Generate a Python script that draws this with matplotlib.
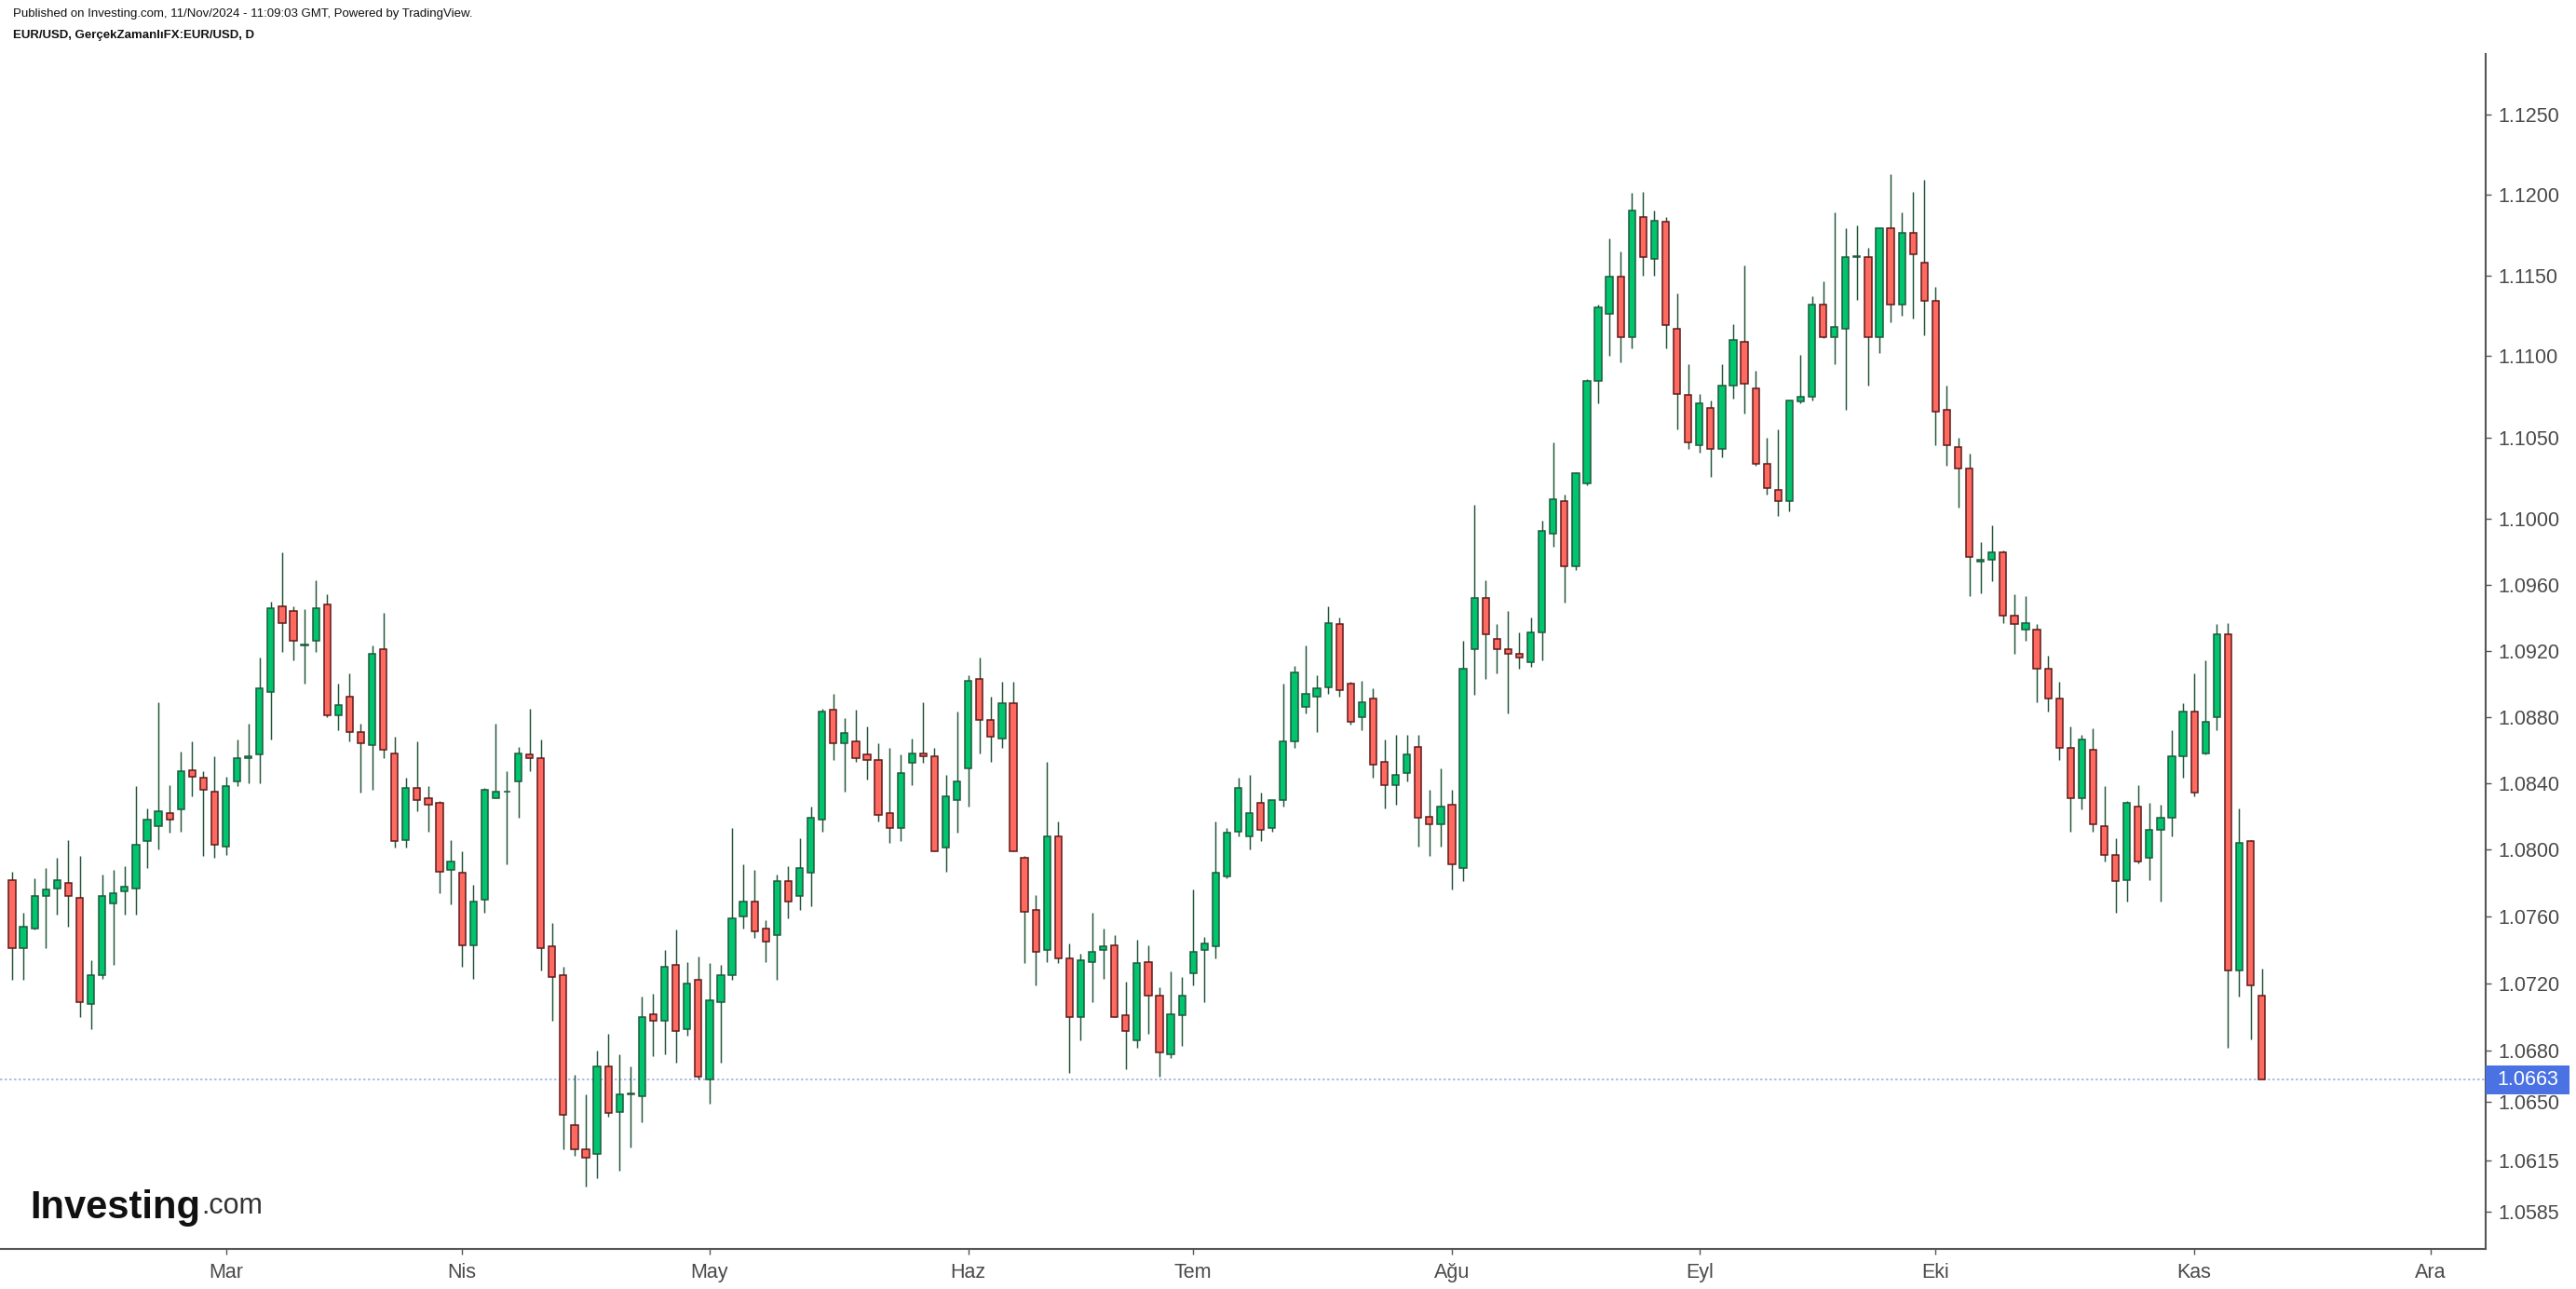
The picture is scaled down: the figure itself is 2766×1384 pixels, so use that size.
import matplotlib
matplotlib.use("Agg")
import matplotlib.pyplot as plt
from matplotlib.patches import Rectangle
from matplotlib.transforms import IdentityTransform
from matplotlib.ticker import FixedLocator, NullLocator, FuncFormatter
import numpy as np
import pandas as pd

plt.rcParams['font.family'] = ['Liberation Sans', 'DejaVu Sans']

# EUR/USD daily candles, one per weekday starting 5 Feb 2024
start_date = "2024-02-05"

opens = [
    1.0782, 1.0741, 1.0753, 1.0772, 1.0777, 1.0780, 1.0771, 1.0708, 1.0725, 1.0768,
    1.0775, 1.0777, 1.0805, 1.0814, 1.0822, 1.0824, 1.0848, 1.0843, 1.0835, 1.0802,
    1.0841, 1.0855, 1.0857, 1.0895, 1.0947, 1.0944, 1.0923, 1.0926, 1.0948, 1.0881,
    1.0892, 1.0871, 1.0863, 1.0921, 1.0858, 1.0806, 1.0837, 1.0831, 1.0828, 1.0788,
    1.0786, 1.0743, 1.0770, 1.0831, 1.0835, 1.0841, 1.0857, 1.0855, 1.0742, 1.0725,
    1.0636, 1.0622, 1.0619, 1.0671, 1.0644, 1.0654, 1.0653, 1.0702, 1.0698, 1.0731,
    1.0693, 1.0722, 1.0663, 1.0709, 1.0725, 1.0760, 1.0769, 1.0753, 1.0749, 1.0781,
    1.0772, 1.0786, 1.0818, 1.0884, 1.0864, 1.0865, 1.0857, 1.0854, 1.0822, 1.0813,
    1.0852, 1.0858, 1.0856, 1.0801, 1.0830, 1.0849, 1.0903, 1.0878, 1.0867, 1.0888,
    1.0795, 1.0764, 1.0740, 1.0808, 1.0735, 1.0700, 1.0733, 1.0740, 1.0743, 1.0701,
    1.0686, 1.0733, 1.0713, 1.0678, 1.0701, 1.0726, 1.0740, 1.0742, 1.0784, 1.0811,
    1.0808, 1.0828, 1.0813, 1.0830, 1.0865, 1.0886, 1.0892, 1.0898, 1.0936, 1.0900,
    1.0880, 1.0891, 1.0853, 1.0839, 1.0846, 1.0862, 1.0820, 1.0815, 1.0827, 1.0789,
    1.0921, 1.0952, 1.0927, 1.0921, 1.0918, 1.0913, 1.0931, 1.0991, 1.1011, 1.0971,
    1.1022, 1.1085, 1.1126, 1.1149, 1.1112, 1.1186, 1.1160, 1.1183, 1.1117, 1.1076,
    1.1045, 1.1068, 1.1043, 1.1082, 1.1109, 1.1080, 1.1034, 1.1018, 1.1011, 1.1072,
    1.1075, 1.1132, 1.1112, 1.1117, 1.1161, 1.1161, 1.1112, 1.1179, 1.1132, 1.1176,
    1.1158, 1.1134, 1.1067, 1.1044, 1.1031, 1.0974, 1.0975, 1.0980, 1.0941, 1.0933,
    1.0933, 1.0909, 1.0891, 1.0861, 1.0831, 1.0860, 1.0814, 1.0797, 1.0782, 1.0826,
    1.0795, 1.0812, 1.0819, 1.0856, 1.0883, 1.0858, 1.0880, 1.0930, 1.0728, 1.0805,
    1.0713,
]
highs = [
    1.0787, 1.0762, 1.0783, 1.0789, 1.0795, 1.0806, 1.0796, 1.0734, 1.0785, 1.0788,
    1.0790, 1.0838, 1.0825, 1.0889, 1.0839, 1.0859, 1.0865, 1.0847, 1.0856, 1.0844,
    1.0866, 1.0876, 1.0916, 1.0950, 1.0980, 1.0947, 1.0945, 1.0963, 1.0954, 1.0900,
    1.0906, 1.0876, 1.0923, 1.0943, 1.0868, 1.0843, 1.0865, 1.0838, 1.0829, 1.0806,
    1.0799, 1.0779, 1.0837, 1.0876, 1.0847, 1.0862, 1.0885, 1.0866, 1.0756, 1.0730,
    1.0666, 1.0654, 1.0680, 1.0690, 1.0678, 1.0671, 1.0712, 1.0714, 1.0740, 1.0752,
    1.0733, 1.0736, 1.0732, 1.0731, 1.0813, 1.0791, 1.0788, 1.0758, 1.0785, 1.0790,
    1.0807, 1.0826, 1.0885, 1.0894, 1.0879, 1.0884, 1.0874, 1.0864, 1.0861, 1.0857,
    1.0867, 1.0889, 1.0861, 1.0845, 1.0883, 1.0905, 1.0916, 1.0892, 1.0901, 1.0901,
    1.0796, 1.0773, 1.0853, 1.0817, 1.0744, 1.0738, 1.0762, 1.0753, 1.0749, 1.0721,
    1.0746, 1.0743, 1.0718, 1.0727, 1.0724, 1.0776, 1.0748, 1.0817, 1.0813, 1.0843,
    1.0845, 1.0834, 1.0830, 1.0900, 1.0911, 1.0923, 1.0905, 1.0947, 1.0940, 1.0901,
    1.0902, 1.0897, 1.0866, 1.0869, 1.0869, 1.0869, 1.0836, 1.0849, 1.0836, 1.0926,
    1.1009, 1.0963, 1.0936, 1.0944, 1.0931, 1.0940, 1.0999, 1.1047, 1.1015, 1.1029,
    1.1086, 1.1132, 1.1173, 1.1165, 1.1201, 1.1202, 1.1190, 1.1186, 1.1139, 1.1095,
    1.1077, 1.1073, 1.1095, 1.1120, 1.1156, 1.1091, 1.1050, 1.1055, 1.1073, 1.1101,
    1.1137, 1.1146, 1.1189, 1.1179, 1.1181, 1.1167, 1.1179, 1.1213, 1.1189, 1.1202,
    1.1209, 1.1143, 1.1082, 1.1050, 1.1040, 1.0986, 1.0996, 1.0981, 1.0954, 1.0953,
    1.0936, 1.0917, 1.0901, 1.0874, 1.0869, 1.0873, 1.0838, 1.0807, 1.0829, 1.0839,
    1.0828, 1.0827, 1.0872, 1.0888, 1.0906, 1.0914, 1.0936, 1.0937, 1.0825, 1.0806,
    1.0729,
]
lows = [
    1.0722, 1.0722, 1.0752, 1.0741, 1.0761, 1.0754, 1.0700, 1.0693, 1.0723, 1.0731,
    1.0761, 1.0761, 1.0789, 1.0800, 1.0810, 1.0811, 1.0832, 1.0796, 1.0795, 1.0797,
    1.0838, 1.0840, 1.0840, 1.0866, 1.0919, 1.0914, 1.0900, 1.0919, 1.0880, 1.0872,
    1.0865, 1.0834, 1.0836, 1.0855, 1.0801, 1.0801, 1.0823, 1.0811, 1.0774, 1.0767,
    1.0730, 1.0723, 1.0762, 1.0831, 1.0791, 1.0819, 1.0847, 1.0728, 1.0698, 1.0622,
    1.0618, 1.0600, 1.0605, 1.0641, 1.0609, 1.0623, 1.0638, 1.0677, 1.0678, 1.0673,
    1.0689, 1.0663, 1.0649, 1.0673, 1.0722, 1.0753, 1.0747, 1.0733, 1.0722, 1.0759,
    1.0764, 1.0766, 1.0811, 1.0854, 1.0835, 1.0853, 1.0842, 1.0817, 1.0804, 1.0805,
    1.0839, 1.0852, 1.0799, 1.0787, 1.0810, 1.0826, 1.0858, 1.0853, 1.0861, 1.0799,
    1.0732, 1.0719, 1.0733, 1.0732, 1.0667, 1.0686, 1.0709, 1.0723, 1.0700, 1.0669,
    1.0682, 1.0690, 1.0665, 1.0676, 1.0683, 1.0719, 1.0709, 1.0735, 1.0783, 1.0808,
    1.0800, 1.0805, 1.0811, 1.0826, 1.0861, 1.0882, 1.0871, 1.0894, 1.0892, 1.0875,
    1.0872, 1.0843, 1.0825, 1.0827, 1.0841, 1.0802, 1.0796, 1.0802, 1.0776, 1.0781,
    1.0893, 1.0903, 1.0906, 1.0882, 1.0909, 1.0910, 1.0914, 1.0983, 1.0949, 1.0969,
    1.1021, 1.1071, 1.1100, 1.1096, 1.1105, 1.1150, 1.1150, 1.1105, 1.1055, 1.1043,
    1.1041, 1.1026, 1.1038, 1.1074, 1.1065, 1.1033, 1.1015, 1.1002, 1.1005, 1.1071,
    1.1073, 1.1111, 1.1095, 1.1067, 1.1135, 1.1082, 1.1102, 1.1121, 1.1125, 1.1123,
    1.1113, 1.1045, 1.1033, 1.1007, 1.0953, 1.0955, 1.0962, 1.0937, 1.0918, 1.0926,
    1.0889, 1.0883, 1.0854, 1.0811, 1.0824, 1.0811, 1.0793, 1.0762, 1.0769, 1.0792,
    1.0782, 1.0769, 1.0808, 1.0843, 1.0832, 1.0857, 1.0872, 1.0682, 1.0712, 1.0687,
    1.0663,
]
closes = [
    1.0741, 1.0754, 1.0772, 1.0776, 1.0782, 1.0772, 1.0709, 1.0725, 1.0772, 1.0774,
    1.0778, 1.0803, 1.0818, 1.0823, 1.0818, 1.0847, 1.0844, 1.0836, 1.0803, 1.0838,
    1.0855, 1.0856, 1.0897, 1.0946, 1.0937, 1.0926, 1.0924, 1.0946, 1.0881, 1.0887,
    1.0871, 1.0864, 1.0918, 1.0860, 1.0805, 1.0837, 1.0830, 1.0827, 1.0787, 1.0793,
    1.0743, 1.0769, 1.0836, 1.0835, 1.0835, 1.0858, 1.0855, 1.0741, 1.0724, 1.0642,
    1.0622, 1.0617, 1.0671, 1.0643, 1.0654, 1.0655, 1.0700, 1.0698, 1.0730, 1.0692,
    1.0720, 1.0665, 1.0710, 1.0725, 1.0759, 1.0769, 1.0751, 1.0745, 1.0781, 1.0769,
    1.0789, 1.0819, 1.0883, 1.0864, 1.0870, 1.0855, 1.0854, 1.0821, 1.0813, 1.0846,
    1.0858, 1.0856, 1.0799, 1.0832, 1.0841, 1.0902, 1.0878, 1.0868, 1.0888, 1.0799,
    1.0763, 1.0739, 1.0808, 1.0735, 1.0700, 1.0734, 1.0739, 1.0742, 1.0700, 1.0692,
    1.0732, 1.0713, 1.0679, 1.0702, 1.0713, 1.0739, 1.0744, 1.0786, 1.0810, 1.0837,
    1.0822, 1.0812, 1.0830, 1.0865, 1.0907, 1.0894, 1.0897, 1.0937, 1.0896, 1.0877,
    1.0889, 1.0851, 1.0839, 1.0845, 1.0857, 1.0819, 1.0815, 1.0826, 1.0791, 1.0909,
    1.0952, 1.0930, 1.0921, 1.0918, 1.0916, 1.0931, 1.0993, 1.1012, 1.0971, 1.1028,
    1.1085, 1.1130, 1.1149, 1.1112, 1.1190, 1.1161, 1.1184, 1.1119, 1.1077, 1.1047,
    1.1071, 1.1043, 1.1082, 1.1110, 1.1083, 1.1034, 1.1019, 1.1011, 1.1073, 1.1075,
    1.1132, 1.1112, 1.1118, 1.1161, 1.1162, 1.1112, 1.1179, 1.1132, 1.1176, 1.1163,
    1.1134, 1.1066, 1.1045, 1.1031, 1.0977, 1.0975, 1.0980, 1.0941, 1.0936, 1.0937,
    1.0909, 1.0891, 1.0861, 1.0831, 1.0866, 1.0815, 1.0797, 1.0781, 1.0828, 1.0793,
    1.0812, 1.0819, 1.0856, 1.0883, 1.0834, 1.0877, 1.0930, 1.0728, 1.0804, 1.0719,
    1.0663,
]

price_ticks = [1.0585, 1.0615, 1.0650, 1.0680, 1.0720, 1.0760, 1.0800, 1.0840, 1.0880,
               1.0920, 1.0960, 1.1000, 1.1050, 1.1100, 1.1150, 1.1200, 1.1250]
month_names = {3: "Mar", 4: "Nis", 5: "May", 6: "Haz", 7: "Tem", 8: "Ağu",
               9: "Eyl", 10: "Eki", 11: "Kas", 12: "Ara"}
last_price = 1.0663

header1 = "Published on Investing.com, 11/Nov/2024 - 11:09:03 GMT, Powered by TradingView."
header2 = "EUR/USD, GerçekZamanlıFX:EUR/USD, D"

UP_FILL, UP_EDGE = "#00c46e", "#1e5a3c"
DN_FILL, DN_EDGE = "#ff6a60", "#5e1a1a"
WICK = "#1f5537"
AXIS_GRAY = "#555555"

W, H = 2766, 1384
fig = plt.figure(figsize=(W / 100, H / 100), dpi=100)
ax = fig.add_axes([0, 43 / H, 2669 / W, (1341 - 58) / H])

o = np.array(opens)
h = np.array(highs)
l = np.array(lows)
c = np.array(closes)
x = np.arange(len(o))
up = c >= o

ax.vlines(x, l, h, color=WICK, linewidth=1.05, zorder=2)
body_lo = np.minimum(o, c)
body_hi = np.maximum(o, c)
ax.bar(x[up], (body_hi - body_lo)[up], bottom=body_lo[up], width=0.6,
       color=UP_FILL, edgecolor=UP_EDGE, linewidth=1.1, zorder=3)
ax.bar(x[~up], (body_hi - body_lo)[~up], bottom=body_lo[~up], width=0.6,
       color=DN_FILL, edgecolor=DN_EDGE, linewidth=1.1, zorder=3)

ax.set_yscale('log')
ax.set_ylim(1.05632, 1.12878)
ax.set_xlim(-1.08, 219.9)

# month ticks at the first weekday of each month
all_days = pd.bdate_range(start_date, "2024-12-31")
month_pos = [i for i in range(1, len(all_days)) if all_days[i].month != all_days[i - 1].month]
ax.set_xticks(month_pos)
ax.set_xticklabels([month_names[all_days[i].month] for i in month_pos])

ax.yaxis.tick_right()
ax.yaxis.set_major_locator(FixedLocator(price_ticks))
ax.yaxis.set_minor_locator(NullLocator())
ax.yaxis.set_major_formatter(FuncFormatter(lambda v, p: "{:.4f}".format(v)))

for s in ['top', 'left']:
    ax.spines[s].set_visible(False)
for s in ['right', 'bottom']:
    ax.spines[s].set_color(AXIS_GRAY)
    ax.spines[s].set_linewidth(1.5)
ax.tick_params(axis='y', direction='out', length=4.5, width=1.0, color=AXIS_GRAY,
               labelsize=15.5, labelcolor="#4a4a4a", pad=5)
ax.tick_params(axis='x', direction='out', length=4.5, width=1.0, color=AXIS_GRAY,
               labelsize=15.5, labelcolor="#4a4a4a", pad=6)

# current price line and label
ax.axhline(last_price, color="#9fb2f0", linewidth=1.2, linestyle=(0, (1.5, 1.5)), zorder=1)
fig.canvas.draw()
y_disp = ax.transData.transform((0, last_price))[1]
fig.add_artist(Rectangle((2669, y_disp - 15.5), 90, 31, transform=IdentityTransform(),
                         facecolor="#4a72e2", edgecolor="none", zorder=5))
fig.text(2669 + 45, y_disp, "{:.4f}".format(last_price), transform=IdentityTransform(),
         ha='center', va='center', color='white', fontsize=15.5, zorder=6)

# header
fig.text(14 / W, 1 - 15 / H, header1, fontsize=9.5, color="#111111", ha='left', va='center')
fig.text(14 / W, 1 - 38 / H, header2, fontsize=9.5, color="#111111", fontweight='bold',
         ha='left', va='center')

# logo
t1 = fig.text(32 / W, 1 - 1297 / H, "Investing", fontsize=30, fontweight='bold',
              color="#111111", ha='left', va='center')
r = fig.canvas.get_renderer()
bb = t1.get_window_extent(renderer=r)
fig.text(bb.x1 + 1, bb.y0 + 7, ".com", transform=IdentityTransform(), fontsize=22,
         color="#333333", ha='left', va='bottom')

fig.savefig("out.png", dpi=100, facecolor='white')
